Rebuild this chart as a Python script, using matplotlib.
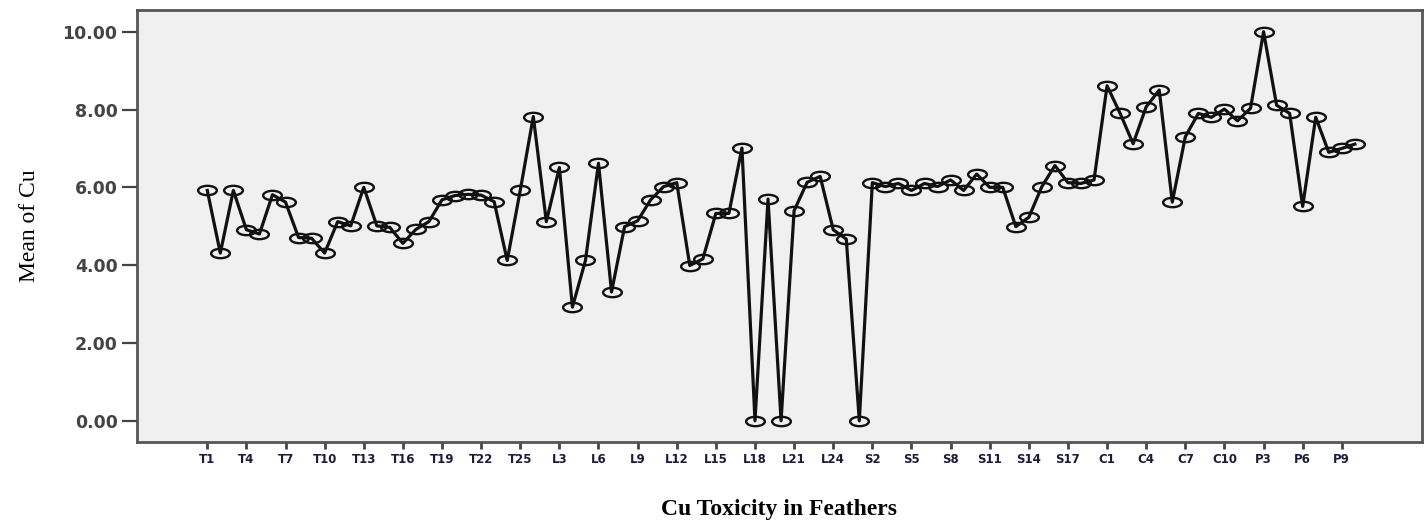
import matplotlib
matplotlib.use("Agg")
import matplotlib.pyplot as plt
from matplotlib.path import Path
from matplotlib.transforms import Affine2D

# ---- data ----
T_labels = [f"T{i}" for i in range(1, 26)]
L_labels = [f"L{i}" for i in range(1, 26)]
S_labels = [f"S{i}" for i in range(1, 20)]
C_labels = [f"C{i}" for i in range(1, 11)]
P_labels = [f"P{i}" for i in range(1, 11)]

T_cu = [5.92, 4.31, 5.92, 4.91, 4.80, 5.81, 5.62, 4.71, 4.69, 4.31, 5.12, 5.01, 6.00,
        5.01, 4.97, 4.56, 4.92, 5.12, 5.68, 5.79, 5.82, 5.80, 5.63, 4.12, 5.92]
L_cu = [7.82, 5.12, 6.51, 2.92, 4.12, 6.62, 3.31, 4.99, 5.14, 5.68, 6.02, 6.12, 3.99,
        4.16, 5.33, 5.33, 7.01, 0.00, 5.70, 0.00, 5.40, 6.13, 6.28, 4.91, 4.67]
S_cu = [0.00, 6.12, 6.02, 6.10, 5.92, 6.10, 6.02, 6.19, 5.92, 6.34, 6.00, 6.00, 4.99,
        5.23, 6.02, 6.56, 6.12, 6.10, 6.19]
C_cu = [8.61, 7.90, 7.12, 8.07, 8.50, 5.62, 7.30, 7.90, 7.80, 8.01]
P_cu = [7.71, 8.03, 10.00, 8.11, 7.90, 5.51, 7.80, 6.90, 7.00, 7.11]

y_ticks = [0, 2, 4, 6, 8, 10]

categories = T_labels + L_labels + S_labels + C_labels + P_labels
values = T_cu + L_cu + S_cu + C_cu + P_cu
x = list(range(len(categories)))

# ---- figure ----
fig = plt.figure(figsize=(14.24, 5.21), dpi=100)
ax = fig.add_axes([0.0962, 0.152, 0.9024, 0.829])
ax.set_facecolor("#f0f0f0")

ellipse = Path.unit_circle().transformed(Affine2D().scale(1.0, 0.5))
ax.plot(x, values, color="#111111", lw=2.3, marker=ellipse, markersize=13.5,
        markerfacecolor="none", markeredgecolor="#111111", markeredgewidth=1.7,
        zorder=3)

ax.set_xlim(-5.39, 93.15)
ax.set_ylim(-0.54, 10.56)

ax.set_yticks(y_ticks)
ax.set_yticklabels([f"{v:.2f}" for v in y_ticks], fontsize=12.5, fontweight="bold",
                   color="#444444")
ax.set_xticks(x[::3])
ax.set_xticklabels(categories[::3], fontsize=8.5, fontweight="bold", color="#1c1c3a")

ax.tick_params(axis="y", direction="out", length=11, width=1.6, color="#444444", pad=3)
ax.tick_params(axis="x", direction="out", length=5, width=2, color="#444444", pad=3)

for s in ax.spines.values():
    s.set_color("#555555")
    s.set_linewidth(2)

ax.set_ylabel("Mean of Cu", family="Liberation Serif", fontsize=17, labelpad=16)
ax.set_xlabel("Cu Toxicity in Feathers", family="Liberation Serif", fontsize=17,
              fontweight="bold", labelpad=24)

fig.savefig("out.png", dpi=100)
